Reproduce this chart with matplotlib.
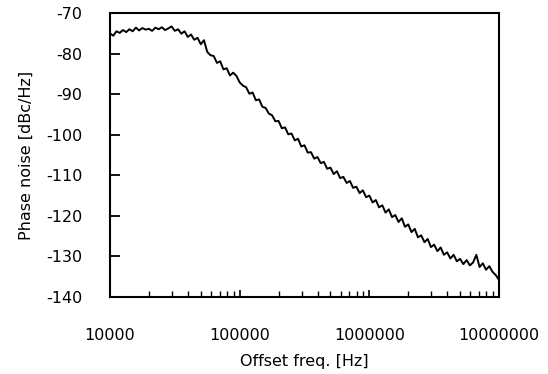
import numpy as np
import matplotlib.pyplot as plt
from matplotlib.ticker import LogLocator, FixedLocator, NullFormatter

# Offset frequency grid (log spaced sweep, 10 kHz .. 10 MHz)
freq = 10 ** np.linspace(4, 7, 121)

# Phase noise [dBc/Hz]
noise = [
    -75.0, -75.6, -74.5, -74.9, -74.2, -74.7, -74.0, -74.5, -73.6, -74.3,
    -73.7, -74.1, -73.9, -74.4, -73.6, -74.0, -73.5, -74.2, -73.8, -73.3,
    -74.4, -74.0, -75.1, -74.5, -75.9, -75.3, -76.6, -76.1, -77.7, -76.7,
    -79.6, -80.4, -80.6, -82.3, -81.9, -83.9, -83.6, -85.4, -84.7, -85.5,
    -87.1, -87.9, -88.3, -89.9, -89.6, -91.5, -91.3, -93.1, -93.4, -94.8,
    -95.2, -96.7, -96.6, -98.4, -98.2, -99.9, -99.7, -101.4, -101.0, -102.9,
    -102.6, -104.4, -104.3, -105.9, -105.5, -107.0, -106.7, -108.4, -108.1, -109.7,
    -109.0, -110.7, -110.4, -111.9, -111.4, -113.1, -112.8, -114.4, -113.7, -115.4,
    -115.0, -116.7, -116.1, -117.9, -117.4, -119.2, -118.4, -120.3, -119.8, -121.5,
    -120.6, -122.7, -122.1, -124.0, -123.2, -125.3, -124.8, -126.5, -125.7, -127.7,
    -127.1, -128.7, -127.8, -129.6, -129.0, -130.5, -129.6, -131.2, -130.6, -131.9,
    -130.9, -132.2, -131.5, -129.6, -132.6, -131.7, -133.3, -132.4, -133.8, -134.6,
    -135.8,
]

y_ticks = [-140, -130, -120, -110, -100, -90, -80, -70]
x_ticks = [1e4, 1e5, 1e6, 1e7]
x_labels = ['10000', '100000', '1000000', '10000000']

plt.rcParams['font.family'] = ['DejaVu Sans']
plt.rcParams['axes.unicode_minus'] = False

fig = plt.figure(figsize=(5.48, 3.74), dpi=100)
ax = fig.add_axes([0.2007, 0.2059, 0.7099, 0.7593])

ax.plot(freq, noise, 'k-', linewidth=1.4)

ax.set_xscale('log')
ax.set_xlim(1e4, 1e7)
ax.set_ylim(-140, -70)

ax.xaxis.set_major_locator(FixedLocator(x_ticks))
ax.set_xticklabels(x_labels)
ax.xaxis.set_minor_locator(LogLocator(base=10, subs=np.arange(2, 10)))
ax.xaxis.set_minor_formatter(NullFormatter())
ax.set_yticks(y_ticks)

ax.tick_params(axis='y', direction='in', length=7, width=1.3, pad=20, labelsize=11.5)
ax.tick_params(axis='x', which='major', direction='in', length=5, width=1.2, pad=22, labelsize=11.5)
ax.tick_params(axis='x', which='minor', direction='in', length=4, width=1.0)

for s in ax.spines.values():
    s.set_linewidth(1.5)

ax.set_xlabel('Offset freq. [Hz]', fontsize=11.5, labelpad=8)
ax.set_ylabel('Phase noise [dBc/Hz]', fontsize=11.5, labelpad=9)

plt.savefig('out.png', dpi=100)
